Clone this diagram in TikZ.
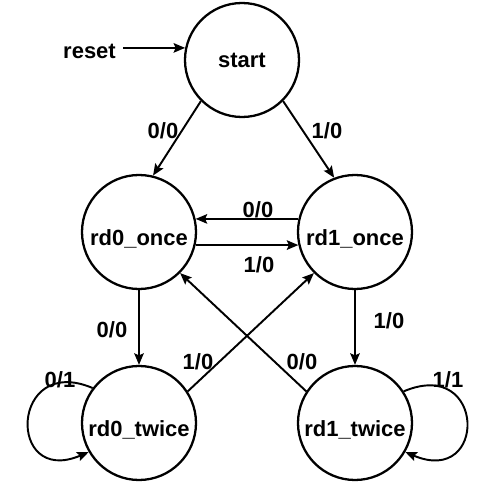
\documentclass[tikz,border=0pt]{standalone}
\usepackage{fontspec}
\setmainfont{Liberation Sans}
\usetikzlibrary{arrows.meta}

\tikzset{
  state/.style={draw, circle, line width=1.3pt, minimum size=2.28cm, inner sep=0pt,
    font=\fontsize{12.5}{15}\selectfont\bfseries},
  lowtext/.style={text height=15pt, text depth=0pt},
  lbl/.style={font=\fontsize{12.5}{15}\selectfont\bfseries, inner sep=1pt},
  trans/.style={->, line width=1.1pt}
}

\begin{document}
\begin{tikzpicture}[>={Stealth[length=2.3mm, width=1.9mm, inset=0.4mm]}]

\useasboundingbox (0,0) rectangle (9.54,9.9);

% ============================================================
% States
% ============================================================
\node[state] (start) at (4.84,8.70) {start};
\node[state, lowtext] (rd0once) at (2.78,5.26) {rd0\_once};
\node[state, lowtext] (rd1once) at (7.10,5.26) {rd1\_once};
\node[state, lowtext] (rd0twice) at (2.78,1.44) {rd0\_twice};
\node[state, lowtext] (rd1twice) at (7.10,1.44) {rd1\_twice};

% Reset input
\node[lbl, inner sep=4pt] (reset) at (1.79,8.88) {reset};
\draw[trans] (reset.east |- start.168) -- (start.168);

% ============================================================
% Transitions
% ============================================================
\draw[trans] (start.225) -- (rd0once.76);
\draw[trans] (start.-45) -- (rd1once.111);

% between the two "once" states
\draw[trans] (rd1once.167) -- (rd0once.13);
\draw[trans] (rd0once.-13) -- (rd1once.193);

% down to the "twice" states
\draw[trans] (rd0once.south) -- (rd0twice.north);
\draw[trans] (rd1once.south) -- (rd1twice.north);

% crossing edges
\draw[trans] (rd0twice.33) -- (rd1once.225);
\draw[trans] (rd1twice.147) -- (rd0once.-45);

% self loops
\draw[trans] (rd0twice.143) .. controls +(-1.65,0.7) and +(-1.65,-0.7) .. (rd0twice.210);
\draw[trans] (rd1twice.33) .. controls +(1.65,0.7) and +(1.65,-0.7) .. (rd1twice.-30);

% ============================================================
% Labels (input/output)
% ============================================================
\node[lbl] (l1) at (3.26,7.28) {0/0};
\node[lbl] (l2) at (6.54,7.28) {1/0};
\node[lbl] (l3) at (5.16,5.70) {0/0};
\node[lbl] (l4) at (5.18,4.60) {1/0};
\node[lbl] (l5) at (2.24,3.30) {0/0};
\node[lbl] (l6) at (7.78,3.48) {1/0};
\node[lbl] (l7) at (3.96,2.66) {1/0};
\node[lbl] (l8) at (6.04,2.66) {0/0};
\node[lbl] (l9) at (1.20,2.30) {0/1};
\node[lbl] (l10) at (8.96,2.30) {1/1};

\end{tikzpicture}
\end{document}
